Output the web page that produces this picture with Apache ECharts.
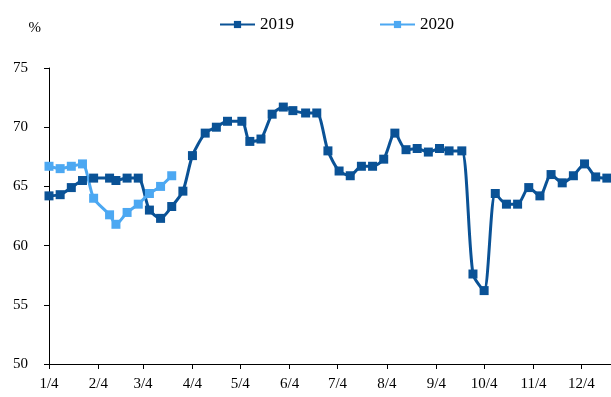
<!DOCTYPE html>
<html>
<head>
<meta charset="utf-8">
<script src="https://cdn.jsdelivr.net/npm/echarts@6/dist/echarts.min.js"></script>
<style>
html,body{margin:0;padding:0;background:#fff;}
#chart{width:611px;height:397px;}
</style>
</head>
<body>
<div id="chart"></div>
<script>
var dates = ['2019-01-04','2019-01-11','2019-01-18','2019-01-25','2019-02-01','2019-02-11','2019-02-15','2019-02-22','2019-03-01','2019-03-08','2019-03-15','2019-03-22','2019-03-29','2019-04-04','2019-04-12','2019-04-19','2019-04-26','2019-05-05','2019-05-10','2019-05-17','2019-05-24','2019-05-31','2019-06-06','2019-06-14','2019-06-21','2019-06-28','2019-07-05','2019-07-12','2019-07-19','2019-07-26','2019-08-02','2019-08-09','2019-08-16','2019-08-23','2019-08-30','2019-09-06','2019-09-12','2019-09-20','2019-09-27','2019-10-04','2019-10-11','2019-10-18','2019-10-25','2019-11-01','2019-11-08','2019-11-15','2019-11-22','2019-11-29','2019-12-06','2019-12-13','2019-12-20'];
var values2019 = [64.2,64.3,64.9,65.5,65.7,65.7,65.5,65.7,65.7,63.0,62.3,63.3,64.6,67.6,69.5,70.0,70.5,70.5,68.8,69.0,71.1,71.7,71.4,71.2,71.2,68.0,66.3,65.9,66.7,66.7,67.3,69.5,68.1,68.2,67.9,68.2,68.0,68.0,57.6,56.2,64.4,63.5,63.5,64.9,64.2,66.0,65.3,65.9,66.9,65.8,65.7];
var values2020 = [66.7,66.5,66.7,66.9,64.0,62.6,61.8,62.8,63.5,64.4,65.0,65.9];
var seriesNames = ['2019','2020'];
var tickLabels = ['1/4','2/4','3/4','4/4','5/4','6/4','7/4','8/4','9/4','10/4','11/4','12/4'];
var yTicks = [50,55,60,65,70,75];

// day number within 2019 (days since 1 Jan, UTC-based to avoid DST issues)
function dayNum(y,m,d){return Math.round((Date.UTC(y,m-1,d)-Date.UTC(2019,0,1))/86400000);}
function dayOf(s){var p=s.split('-');return dayNum(+p[0],+p[1],+p[2]);}
var tickDays = tickLabels.map(function(l){var p=l.split('/');return dayNum(2019,+p[0],+p[1]);});
var labelByDay = {};
tickDays.forEach(function(t,i){labelByDay[t]=tickLabels[i];});
var xMin = dayOf(dates[0]);
var xMax = xMin + 352.6;

var d2019 = dates.map(function(d,i){return [dayOf(d), values2019[i]];});
var d2020 = values2020.map(function(v,i){return [dayOf(dates[i]), v];});

var font = 'Liberation Serif, Times New Roman, serif';
var chart = echarts.init(document.getElementById('chart'), null, {renderer:'canvas'});
chart.setOption({
  animation:false,
  backgroundColor:'#fff',
  grid:{left:49,right:0,top:68,bottom:33,containLabel:false},
  legend:{
    left:214, top:11, itemGap:85, itemWidth:35, itemHeight:9,
    textStyle:{fontFamily:font,fontSize:17,color:'#000'},
    data:seriesNames
  },
  xAxis:{
    type:'value', min:xMin, max:xMax,
    splitLine:{show:false},
    axisLine:{onZero:false,lineStyle:{color:'#000',width:1}},
    axisTick:{show:true,length:5,customValues:tickDays,lineStyle:{color:'#000'}},
    axisLabel:{customValues:tickDays,margin:13,fontFamily:font,fontSize:15,color:'#000',
      formatter:function(v){return labelByDay[Math.round(v)]||'';}}
  },
  yAxis:{
    type:'value', min:yTicks[0], max:yTicks[yTicks.length-1], interval:5,
    name:'%', nameLocation:'end', nameGap:32,
    nameTextStyle:{fontFamily:font,fontSize:15,color:'#000',align:'right',padding:[0,8,0,0]},
    splitLine:{show:false},
    axisLine:{show:true,onZero:false,lineStyle:{color:'#000',width:1}},
    axisTick:{show:true,length:5,lineStyle:{color:'#000'}},
    axisLabel:{margin:21,fontFamily:font,fontSize:15,color:'#000'}
  },
  series:[
    {name:seriesNames[0],type:'line',data:d2019,smooth:0.25,
     symbol:'rect',symbolSize:9,
     lineStyle:{color:'#0A5296',width:3},itemStyle:{color:'#0A5296'}},
    {name:seriesNames[1],type:'line',data:d2020,smooth:0.25,
     symbol:'rect',symbolSize:9,
     lineStyle:{color:'#4CA8F2',width:3},itemStyle:{color:'#4CA8F2'}}
  ]
});
</script>
</body>
</html>
